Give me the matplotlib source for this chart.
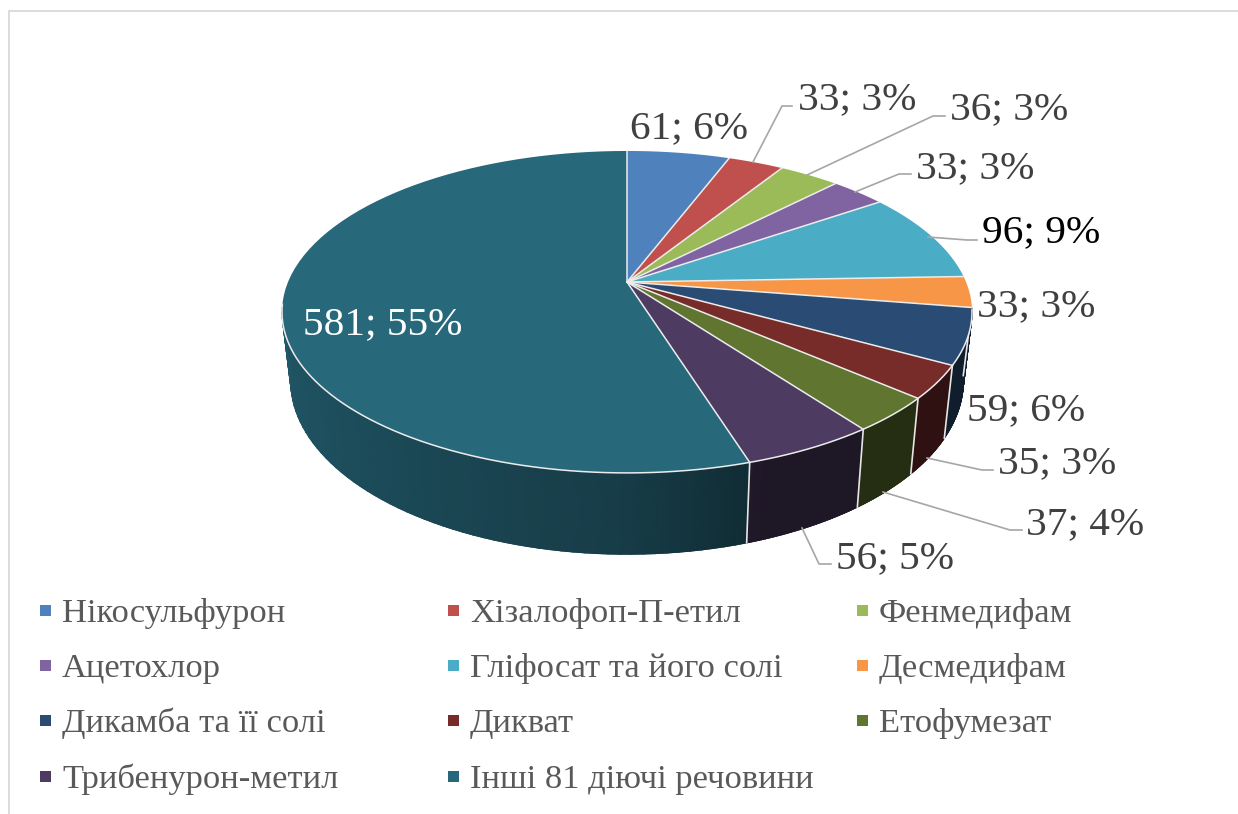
import matplotlib
matplotlib.use('Agg')
import matplotlib.pyplot as plt
from matplotlib.colors import LinearSegmentedColormap
import numpy as np

plt.rcParams['font.family'] = ['Liberation Serif', 'DejaVu Serif']

names = ['Нікосульфурон', 'Хізалофоп-П-етил', 'Фенмедифам', 'Ацетохлор',
         'Гліфосат та його солі', 'Десмедифам', 'Дикамба та її солі', 'Дикват',
         'Етофумезат', 'Трибенурон-метил', 'Інші 81 діючі речовини']
values = [61, 33, 36, 33, 96, 33, 59, 35, 37, 56, 581]
percents = [6, 3, 3, 3, 9, 3, 6, 3, 4, 5, 55]
colors = ['#4f81bd', '#c0504d', '#9bbb59', '#8064a2', '#4bacc6', '#f79646',
          '#2a4b73', '#772c2a', '#5f7530', '#4d3b62', '#27687b']

# label left edge / baseline, then leader line points (None = no leader)
label_pos = [(630, 138), (798, 109), (950, 119), (916, 178), (982, 242), (977, 316),
             (967, 420), (998, 473), (1026, 534), (836, 568), (303, 334)]
leaders = [None,
           [(753, 162), (782, 106), (792, 106)],
           [(807, 175), (933, 116), (945, 116)],
           [(855, 192), (899, 174), (911, 174)],
           [(928, 237), (967, 240), (977, 240)],
           None, None,
           [(927, 458), (982, 470), (993, 470)],
           [(883, 492), (1010, 530), (1022, 530)],
           [(802, 528), (819, 564), (831, 564)],
           None]
label_colors = ['#404040'] * 11
label_colors[4] = '#000000'
label_colors[10] = '#ffffff'

# perspective of the disc
cx, cy = 627, 282
A, B, p = 339, 155.4, 0.186


def top(th):
    w = 1 + p * np.cos(th)
    return cx + A * np.sin(th) / w, cy - B * np.cos(th) / w


def bottom(th):
    x, y = top(th)
    return cx + 0.975 * (x - cx), cy + 66 + 1.08 * (y - cy)


def shade(th):
    return np.interp(np.degrees(th), [90, 160, 165, 180, 220, 270],
                     [0.38, 0.39, 0.45, 0.58, 0.72, 0.87])


fig = plt.figure(figsize=(12.38, 8.14), dpi=100)
ax = fig.add_axes([0, 0, 1, 1])
ax.set_xlim(0, 1238)
ax.set_ylim(814, 0)
ax.axis('off')

# chart border
ax.plot([8.5, 8.5, 1238], [814, 10.5, 10.5], color='#d9d9d9', lw=1.3)

edges = np.radians(np.cumsum([0] + values) / sum(values) * 360)
lo, hi = np.radians(99), np.radians(261)

# side wall
for i, c in enumerate(colors):
    t0, t1 = max(edges[i], lo), min(edges[i + 1], hi)
    if t1 <= t0:
        continue
    ts = np.linspace(t0, t1, 60)
    xa, ya = top(ts)
    xb, yb = bottom(ts)
    f = shade(ts)
    cmap = LinearSegmentedColormap.from_list('side', ['#000000', c])
    ax.pcolormesh(np.array([xa, xb]), np.array([ya, yb]), np.array([f, f]),
                  shading='gouraud', cmap=cmap, vmin=0, vmax=1, zorder=2)
    # smooth the lower outline of the mesh
    for j in range(len(ts) - 1):
        col = cmap(float(f[j]))
        ax.plot(xb[j:j + 2], yb[j:j + 2], color=col, lw=0.8, zorder=2)
    if np.radians(90) < edges[i + 1] < np.radians(270):
        x0, y0 = top(edges[i + 1])
        x1, y1 = bottom(edges[i + 1])
        ax.plot([x0, x1], [y0, y1], color='#e6e6e6', lw=1.2, zorder=3)

# top of the disc
for i, c in enumerate(colors):
    ts = np.linspace(edges[i], edges[i + 1], 80)
    x, y = top(ts)
    ax.fill(np.r_[cx, x], np.r_[cy, y], color=c, lw=0, zorder=4)
for t in edges[:-1]:
    x, y = top(t)
    ax.plot([cx, x], [cy, y], color='#ececec', lw=1.1, zorder=4)

# light rim along the front edge
x, y = top(np.radians(np.linspace(100, 262, 200)))
ax.plot(x, y, color='#ececec', lw=1.1, zorder=4)

# data labels
for v, pct, pos, c, ld in zip(values, percents, label_pos, label_colors, leaders):
    ax.text(pos[0], pos[1], f'{v}; {pct}%', fontsize=29.7,
            color=c, ha='left', va='baseline', zorder=6)
    if ld:
        ax.plot(*zip(*ld), color='#a6a6a6', lw=1.2, zorder=5)

# legend
col_x = [40, 448, 857]
row_y = [610, 665, 720, 776]
for i, (name, c) in enumerate(zip(names, colors)):
    x = col_x[i % 3]
    y = row_y[i // 3]
    ax.fill([x, x + 11, x + 11, x], [y - 5.5, y - 5.5, y + 5.5, y + 5.5], color=c, lw=0)
    ax.text(x + 22, y + 12, name, fontsize=24.8, color='#595959', ha='left', va='baseline')

fig.savefig('out.png', dpi=100)
